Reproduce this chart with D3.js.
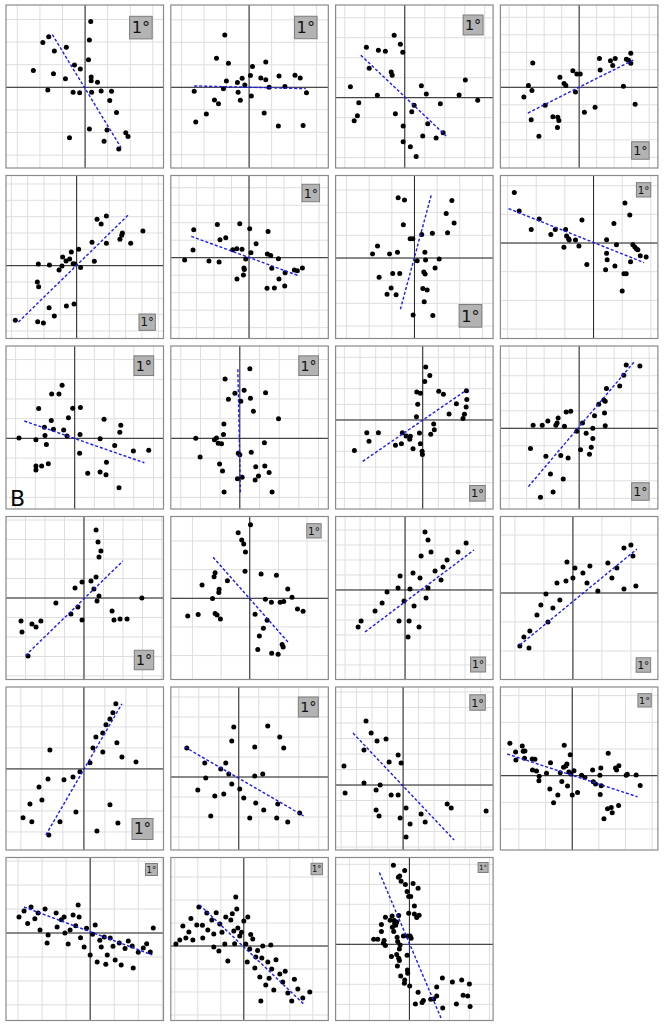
<!DOCTYPE html>
<html lang="en">
<head>
<meta charset="UTF-8" />
<title>Panels B</title>
<script src="https://cdn.jsdelivr.net/npm/d3@7"></script>
<style>
  body { margin: 0; background: #fff; }
  svg { display: block; font-family: "DejaVu Sans", sans-serif; }
</style>
</head>
<body>
<div id="chart"></div>
<script>
// axis extent of each panel, in degrees (panels read left to right, top to bottom)
var xDomains = [
  [-3.50, 3.47], [-3.48, 3.52], [-3.46, 4.42], [-4.50, 4.50],
  [-4.33, 5.32], [-4.47, 4.53], [-3.48, 3.47], [-6.50, 4.49],
  [-3.49, 4.51], [-3.51, 4.50], [-5.56, 4.49], [-4.50, 4.50],
  [-4.00, 4.08], [-5.51, 5.48], [-4.63, 5.87], [-5.00, 5.86],
  [-3.71, 3.79], [-3.40, 4.48], [-4.35, 5.80], [-5.39, 6.43],
  [-7.00, 6.10], [-6.35, 7.35], [-7.38, 8.37]
];
var yDomains = [
  [-3.57, 3.64], [-3.59, 3.66], [-3.52, 4.64], [-4.61, 4.70],
  [-4.46, 5.52], [-4.62, 4.70], [-3.55, 3.64], [-6.66, 4.71],
  [-3.59, 4.69], [-3.59, 4.69], [-5.68, 4.72], [-4.61, 4.70],
  [-4.18, 4.18], [-5.67, 5.71], [-5.97, 4.90], [-5.97, 5.28],
  [-3.86, 3.90], [-3.65, 4.50], [-4.19, 6.32], [-5.57, 6.65],
  [-7.30, 6.30], [-6.48, 7.70], [-7.62, 8.68]
];
var gridStep = [1, 1, 1, 1, 1, 1, 1, 2, 1, 1, 1, 1, 1, 2, 1, 2, 1, 1, 1, 2, 2, 2, 2];
// where the 1 degree box sits
var boxAt = ["top", "top", "top", "bottom", "bottom", "top", "bottom", "top",
             "top", "top", "bottom", "bottom", "bottom", "top", "bottom", "bottom",
             "bottom", "top", "top", "top", "top", "top", "top"];
var scaleLabel = "1°";
var panelLetter = "B";
var letterPanel = 8;

// dashed fit line of each panel: two end points
var fitLines = [
  [[-1.45, 2.33], [1.59, -2.67]], [[-2.44, 0.06], [2.52, -0.06]],
  [[-2.20, 2.13], [2.07, -1.92]], [[-2.93, -1.47], [3.10, 1.56]],
  [[-3.57, -3.45], [3.14, 3.08]], [[-3.30, 1.22], [2.84, -1.03]],
  [[-0.62, -2.26], [0.75, 2.81]], [[-5.93, 2.40], [3.53, -1.37]],
  [[-2.56, 0.88], [3.54, -1.24]], [[-0.10, 3.51], [0.03, -2.76]],
  [[-3.83, -2.64], [2.77, 1.89]], [[-2.90, -3.33], [3.16, 3.81]],
  [[-3.00, -2.95], [2.00, 1.90]], [[-2.56, 2.86], [2.70, -3.09]],
  [[-2.67, -2.80], [4.60, 2.67]], [[-3.66, -3.59], [4.41, 3.03]],
  [[-1.81, -3.14], [1.81, 3.10]], [[-2.70, 1.50], [3.25, -1.95]],
  [[-3.23, 3.35], [3.29, -3.55]], [[-4.88, 1.63], [4.90, -1.58]],
  [[-5.50, 2.17], [5.17, -1.83]], [[-3.83, 3.57], [5.30, -5.13]],
  [[-3.00, 7.17], [3.17, -7.40]]
];

var points = [
  // 1
  [[0.25,2.91],[0.19,2.09],[-1.61,2.24],[-1.87,1.98],[-1.36,1.61],[-0.83,1.77],[0.15,1.22],[-0.47,0.99],[-0.21,0.81],[-2.29,0.74],[-1.40,0.60],[-0.87,0.38],[0.27,0.46],[0.27,0.29],[0.55,0.22],[-1.65,-0.12],[-0.53,-0.22],[-0.24,-0.24],[0.29,-0.22],[0.71,-0.16],[1.17,-0.18],[1.09,-0.58],[1.39,-1.12],[0.19,-1.84],[0.97,-1.89],[1.80,-2.01],[1.90,-2.18],[-0.69,-2.23],[0.84,-2.39],[1.49,-2.73]],
  // 2
  [[-1.08,2.33],[-1.45,1.29],[-0.92,1.07],[0.74,1.13],[0.15,0.93],[0.06,0.52],[-0.31,0.40],[-0.52,0.21],[-0.19,0.10],[-1.01,0.28],[0.52,0.41],[0.74,0.33],[1.33,0.50],[2.04,0.53],[2.27,0.41],[0.89,0],[1.59,0.04],[-1.14,-0.06],[-2.44,-0.18],[-0.49,-0.22],[0.10,-0.39],[2.55,-0.24],[-1.54,-0.56],[-1.36,-0.73],[-0.39,-0.58],[-1.90,-1.19],[0.67,-1.14],[-2.37,-1.54],[1.30,-1.72],[2.40,-1.70]],
  // 3
  [[-0.53,3.13],[-0.22,2.67],[-1.92,2.52],[-1.32,2.37],[-0.97,2.32],[-0.10,2.28],[-1.78,1.47],[-0.68,1.28],[-0.63,1.12],[-2.72,0.55],[-1.37,0.12],[0.83,0.60],[1.08,0.18],[3.03,0.88],[2.72,0.13],[3.65,-0.13],[-2.30,-0.25],[-2.37,-0.90],[-2.53,-1.15],[-0.47,-0.80],[0.47,-0.38],[0.35,-0.70],[1.78,-0.30],[1.15,-1.30],[-0.08,-1.42],[1.92,-1.75],[0.90,-1.92],[1.57,-2.02],[-0.08,-2.20],[0.28,-2.45],[0.57,-2.95]],
  // 4
  [[-2.65,1.39],[-2.90,0.10],[-2.70,-0.19],[-3.16,-0.55],[-2.74,-1.85],[-2.30,-2.80],[-1.94,-1.03],[-1.50,-1.68],[-1.22,-1.71],[-1.16,-1.90],[-1.24,-2.30],[-1.10,0.57],[-0.86,0.21],[-0.76,0.10],[-0.36,0.95],[-0.13,0.76],[0.06,0.76],[-0.21,-0.27],[0.30,-1.43],[0.91,-1.14],[1.16,1.64],[1.20,0.99],[1.79,1.52],[1.92,1.24],[2.06,1.64],[2.53,0.06],[2.70,1.60],[2.82,1.54],[2.95,1.94],[2.95,1.37],[3.20,-0.97]],
  // 5
  [[1.25,2.84],[1.50,2.55],[1.82,3.04],[4.06,2.12],[2.80,2.00],[2.76,1.86],[2.65,1.61],[3.31,1.37],[1.82,1.37],[0.94,1.43],[0.12,1.00],[-0.33,0.84],[-0.86,0.53],[-0.43,0.41],[-0.65,0.29],[-0.90,-0.02],[-1.08,-0.27],[-0.22,0.12],[-0.12,0.10],[-1.67,0.04],[-2.35,0.10],[1.08,0.27],[0.24,-0.12],[-2.41,-1.00],[-2.33,-1.29],[-1.69,-2.57],[-1.37,-3.08],[-0.63,-2.47],[-0.16,-2.35],[-2.39,-3.43],[-2.04,-3.51],[-3.76,-3.35]],
  // 6
  [[-3.16,1.60],[-3.20,0.44],[-3.68,-0.13],[-2.29,-0.19],[-1.71,-0.25],[-1.81,1.90],[-1.66,1.03],[-1.33,1.14],[-0.53,1.94],[0.04,1.66],[-0.93,0.46],[-0.70,0.51],[-0.40,0.48],[0.11,0.29],[0.40,0.80],[-0.19,-0.08],[-0.29,-0.59],[-0.27,-0.67],[-0.32,-0.99],[-0.69,-1.22],[1.09,1.50],[1.05,0.21],[1.24,0.13],[1.68,-0.06],[1.30,-0.61],[2.06,-0.86],[1.71,-1.22],[1.45,-1.73],[1.03,-1.75],[2.04,-1.62],[2.59,-0.70],[2.76,-0.74],[3.05,-0.59]],
  // 7
  [[-0.72,2.66],[-0.44,2.56],[-0.49,1.47],[-0.19,0.85],[-0.07,0.85],[0.32,1.04],[0.79,1.09],[1.40,1.96],[1.65,2.54],[1.75,1.54],[1.46,1.12],[-1.63,0.53],[-1.85,0.18],[-1.10,0.18],[-0.75,0.25],[0.46,0.26],[0.12,-0.12],[0.49,-0.09],[1.09,-0.04],[0.91,-0.44],[-0.96,-0.68],[-0.65,-0.68],[-1.56,-0.85],[0.41,-0.62],[0.47,-0.71],[-1.03,-1.32],[-1.21,-1.60],[-0.81,-1.62],[0.37,-1.34],[0.56,-1.41],[0.43,-1.93],[-0.06,-2.51],[0.81,-2.53]],
  // 8
  [[-5.53,3.53],[-5.19,2.23],[-3.79,1.67],[-4.35,0.95],[-2.98,0.60],[-2.67,0.95],[-1.95,0.95],[-1.88,0.49],[-1.74,0.30],[-1.70,0.21],[-1.26,0.21],[-0.81,1.60],[-2.07,-0.30],[-1.02,-0.21],[-0.47,-1.49],[0.91,0.23],[1.42,1.37],[2.19,2.79],[2.53,1.95],[1.60,-0.12],[0.91,-0.72],[0.95,-1.16],[0.84,-1.86],[1.49,-1.60],[2.74,-0.12],[2.88,-0.28],[3.00,-0.42],[3.09,-0.47],[3.26,-0.88],[3.67,-0.98],[2.58,-1.30],[2.12,-2.14],[2.28,-2.14],[2.00,-3.35]],
  // 9
  [[-0.64,2.69],[-1.17,2.25],[-0.80,2.25],[-1.83,1.51],[-0.10,1.53],[0.29,1.56],[-0.32,1.05],[-1.19,0.90],[1.49,0.97],[2.34,0.66],[2.29,0.31],[-1.54,0.56],[-1.08,0.46],[-0.56,0.42],[-1.51,0.14],[-0.39,0.12],[0.27,0.20],[-2.83,0.02],[-1.97,-0.07],[-1.44,-0.31],[1.29,-0.02],[2.03,-0.37],[2.98,-0.64],[3.76,-0.61],[0.25,-0.76],[-1.34,-1.29],[-1.68,-1.41],[-1.97,-1.41],[-1.97,-1.61],[1.61,-1.22],[0.66,-1.78],[1.29,-1.71],[1.59,-1.85],[2.25,-2.51]],
  // 10
  [[0.51,3.54],[-0.75,3.02],[0.22,2.44],[-0.25,2.29],[1.31,2.31],[-0.58,1.98],[0.05,1.88],[0.54,2.03],[0.69,1.37],[1.97,1.00],[-0.81,0.73],[-0.83,0.20],[-2.24,0],[-1.29,-0.07],[-1.19,0.02],[-1.10,-0.25],[-0.93,-0.27],[-2.02,-0.95],[-0.08,-0.76],[0,-0.83],[0.58,-0.71],[1.25,-0.22],[-1.03,-1.31],[-0.88,-1.66],[0.81,-1.44],[1.27,-1.41],[1.49,-1.73],[0.95,-1.92],[0.78,-2.12],[-0.12,-2.05],[0.12,-1.98],[-0.80,-2.73],[1.64,-2.73]],
  // 11
  [[0.19,3.38],[0.45,2.83],[0.13,2.45],[-0.38,1.79],[-0.15,1.70],[1.02,1.83],[1.32,1.64],[-0.32,1.00],[2.79,1.87],[2.81,1.30],[2.15,1.04],[2.77,0.83],[1.68,0.38],[2.66,0.36],[2.57,0.09],[-0.40,0.21],[0.70,-0.26],[0.74,-0.62],[0.51,-0.91],[-0.21,-0.83],[-0.15,-1.51],[-0.04,-2.00],[-0.02,-2.21],[-3.57,-0.81],[-3.43,-1.36],[-2.83,-0.81],[-4.36,-1.94],[-1.30,-0.81],[-1.06,-1.02],[-0.79,-1.04],[-0.83,-1.23],[-1.36,-1.51],[-1.74,-1.62],[-0.62,-1.83]],
  // 12
  [[2.69,3.62],[3.47,3.56],[2.55,3.03],[2.32,2.42],[1.56,2.27],[1.41,1.62],[1.49,1.54],[1.12,1.37],[1.45,0.88],[0.88,0.72],[1.49,0.15],[0.78,0],[0.19,0.30],[0.40,-0.29],[0.78,-0.59],[0.69,-1.09],[0.59,-1.49],[0.08,-1.22],[-0.13,-0.17],[-0.48,0.97],[-0.74,0.93],[-1.20,0.59],[-1.26,0.30],[-0.84,0.11],[-1.33,0.17],[-1.79,0.42],[-2.11,0.17],[-2.63,0.17],[-2.78,-1.16],[-1.90,-1.60],[-1.05,-1.56],[-0.63,-1.70],[-1.64,-2.61],[-0.91,-2.90],[-1.49,-3.64],[-2.21,-3.94]],
  // 13
  [[0.62,3.49],[0.72,2.87],[0.87,2.41],[0.77,2.10],[0.62,1.08],[0.36,0.87],[0.51,0.46],[-0.10,0.82],[-0.46,0.51],[0.67,-0.15],[0.77,0.10],[-0.67,-0.82],[-0.31,-0.46],[-0.10,-1.13],[1.44,-0.67],[1.54,-1.13],[1.85,-1.08],[2.21,-1.08],[2.97,0],[-3.23,-1.18],[-2.67,-1.33],[-2.46,-1.49],[-2.21,-1.18],[-3.18,-1.74],[-2.87,-2.97],[-1.44,-0.26]],
  // 14
  [[0.05,5.14],[-0.81,4.58],[-0.56,4.07],[-0.42,3.79],[-0.30,3.23],[-0.33,1.88],[-2.42,1.79],[-2.49,1.51],[-1.56,1.23],[-3.33,0.93],[-2.14,0.63],[-2.16,0.40],[-2.60,-0.02],[0.79,1.70],[1.86,1.60],[2.65,0.65],[2.95,0.07],[1.09,-0.07],[1.51,-0.28],[2.12,-0.28],[2.37,-0.23],[3.33,-0.74],[3.72,-0.91],[-4.33,-1.23],[-3.60,-1.14],[-2.42,-1.07],[-2.28,-1.16],[-2.05,-1.44],[0.37,-1.12],[1.21,-1.53],[0.95,-2.09],[0.67,-2.63],[0.56,-3.58],[1.53,-3.84],[1.98,-3.91],[2.26,-3.23],[2.33,-3.40]],
  // 15
  [[1.33,3.87],[1.53,3.33],[1.73,2.53],[1.07,2.27],[4.07,3.13],[3.53,2.53],[2.80,2.00],[2.53,1.53],[2.00,1.27],[1.00,0.80],[0.53,1.13],[0.33,0.07],[-0.33,0.93],[-0.47,0.13],[2.40,0.67],[1.53,0.13],[1.40,-0.53],[0.60,-1.07],[-0.07,-0.73],[-0.40,-2.07],[0.20,-3.13],[0.27,-2.07],[0.93,-2.47],[-1.53,-0.87],[-2.00,-1.40],[-2.93,-2.07],[-3.13,-2.47],[-1.20,-0.13]],
  // 16
  [[4.00,3.31],[3.52,3.10],[4.14,2.55],[2.41,2.07],[3.03,1.72],[1.17,1.86],[0.14,1.72],[0,1.03],[0.69,1.38],[-0.48,0.83],[-1.10,0.69],[-1.86,-0.07],[-0.90,-0.48],[-1.38,-1.03],[-2.21,-0.83],[-2.48,-1.52],[-1.72,-2.00],[-2.97,-2.62],[-3.38,-3.03],[-3.66,-3.66],[-3.03,-3.79],[1.72,0.14],[2.69,1.03],[3.52,0.28],[4.34,0.48],[-0.41,2.14],[0.97,0.69]],
  // 17
  [[1.52,3.10],[1.38,2.67],[1.24,2.38],[1.05,2.10],[0.90,1.71],[0.57,1.52],[0.43,1.00],[0.90,0.81],[1.57,1.24],[1.81,0.57],[2.48,0.33],[0.29,0.29],[-0.19,-0.14],[-0.52,-0.38],[-0.95,-0.52],[-1.62,0.90],[-1.71,-0.48],[-2.14,-0.86],[-2.57,-1.67],[-2.90,-2.33],[-2.48,-2.52],[-2.00,-1.48],[-1.14,-2.52],[-0.38,-2.05],[1.24,-1.71],[1.62,-2.57],[0.62,-2.95],[-1.67,-3.14]],
  // 18
  [[-0.25,2.50],[-0.35,1.80],[0.80,1.50],[1.45,2.55],[2.05,2.00],[2.25,1.45],[-2.60,1.45],[-1.70,0.70],[-0.90,0.40],[-0.65,0.70],[-0.50,0.15],[-0.35,-0.35],[0.05,-0.60],[0.80,0.05],[1.20,0.15],[0.25,-1.05],[-0.75,-0.85],[-1.20,-0.95],[-1.40,-1.95],[0.55,-2.05],[0.85,-1.30],[1.25,-1.65],[1.95,-1.35],[1.90,-2.05],[2.45,-2.25],[3.05,-1.80],[-2.05,-0.65],[-1.65,-0.05]],
  // 19
  [[-2.39,4.13],[-2.06,3.35],[-2.52,2.26],[-1.68,2.84],[-1.10,2.97],[-0.90,1.48],[-0.32,1.94],[-0.13,1.42],[-3.81,1.23],[-2.52,0.13],[-1.74,-0.32],[-1.48,0],[-0.32,-0.65],[-0.77,-0.65],[-3.74,-0.52],[-1.74,-1.61],[-1.55,-2.00],[-0.19,-2.13],[0.19,-1.48],[0.45,-2.52],[1.16,-1.87],[1.42,-2.39],[2.84,-1.23],[3.10,-1.48],[5.35,-1.68],[0.19,-3.35]],
  // 20
  [[-4.68,2.43],[-3.75,2.23],[-4.25,1.78],[-3.68,1.83],[-3.55,1.85],[-4.23,1.18],[-3.58,1.30],[-3.00,1.25],[-2.80,1.23],[-2.98,0.43],[-2.68,0.35],[-2.48,-0.05],[-2.50,-0.38],[-1.93,0.18],[-1.63,0.98],[-0.60,2.28],[-0.15,1.58],[-0.40,0.88],[-0.48,0.73],[-0.65,0.63],[-0.25,0.28],[0.13,0.38],[-0.10,0.13],[-0.90,0.23],[-0.78,-0.43],[-0.35,-0.78],[-1.68,-1.00],[-1.08,-1.45],[-1.40,-2.03],[0,-1.45],[0.40,-1.25],[0.70,0.03],[0.95,-0.13],[1.53,0.43],[2.15,0.58],[2.08,0.03],[1.58,-0.45],[1.75,-0.63],[2.18,-0.75],[2.10,-1.40],[2.70,1.68],[3.25,0.58],[3.33,0.43],[3.50,0.75],[4.05,0.03],[4.13,0.10],[4.80,0.05],[5.10,-0.73],[3.48,-2.23],[2.93,-2.38],[2.65,-2.48],[3.00,-2.78],[2.38,-3.23]],
  // 21
  [[-5.92,1.33],[-5.50,1.83],[-4.92,2.17],[-4.33,1.67],[-3.75,2.00],[-2.83,1.67],[-2.17,1.33],[-1.42,1.50],[-1.00,2.33],[-0.92,1.33],[0.42,0.67],[1.17,-0.33],[1.67,-0.42],[2.42,-0.83],[3.17,-0.67],[3.50,-1.08],[4.42,-1.25],[5.25,0.42],[-4.17,0.25],[-3.50,-0.17],[-2.75,0.50],[-1.83,-0.92],[-0.50,-1.17],[0,-1.83],[0.58,-2.42],[1.42,-1.83],[2.08,-2.25],[2.58,-2.67],[3.58,-2.92],[5.00,-1.58],[-1.67,0.25],[0.92,-1.17],[-3.58,-0.83],[-5.20,0.80],[-4.60,1.20],[-2.40,1.10],[-1.20,0.60],[-0.30,0.40],[0.20,-0.10],[0.80,-0.60],[1.90,-1.10],[2.90,-1.30],[4.00,-1.60],[4.70,-0.90],[-0.80,-0.40],[-2.10,0.00],[1.30,-2.60]],
  // 22
  [[-3.91,3.39],[-3.22,2.87],[-2.78,2.26],[-3.13,1.39],[-4.09,1.83],[-4.78,1.22],[-5.30,1.74],[-5.04,0.70],[-4.43,0.52],[-3.57,0.70],[-2.61,1.04],[-2.09,1.91],[-1.57,2.52],[-1.13,2.26],[-0.70,4.26],[-0.61,3.22],[0,2.17],[0.35,2.52],[-0.87,1.30],[-0.35,0.87],[0.17,0.17],[0.52,-0.26],[1.04,-0.96],[1.57,-1.04],[2.09,-1.39],[0.96,-1.91],[1.39,-2.70],[2.43,-2.00],[3.13,-2.43],[1.91,-3.39],[2.61,-3.83],[3.39,-3.13],[3.83,-4.09],[4.70,-3.74],[5.13,-4.52],[5.74,-4.00],[4.17,-4.78],[1.48,-4.78],[-1.39,-1.30],[-2.17,-0.43],[-1.65,0.17],[-2.61,-0.09],[-5.57,0.52],[-5.91,0.17],[-0.52,1.57],[0.78,0.61],[1.65,0],[2.35,0.09],[-2.40,2.90],[-1.90,1.20],[-1.00,2.80],[-0.20,1.20],[0.60,1.00],[1.20,-0.40],[2.80,-1.20],[2.20,-2.80],[3.60,-2.20],[4.40,-2.90],[-4.60,2.40],[-3.60,1.80],[-0.80,0.20],[0.30,-1.40]],
  // 23
  [[-1.60,7.90],[-0.47,7.37],[-0.97,6.83],[-1.10,6.70],[-0.83,6.30],[-0.40,5.97],[0.37,6.07],[0.87,5.60],[-0.23,5.27],[-0.07,4.77],[0.13,4.77],[0.50,3.83],[-0.07,3.10],[0.50,3.03],[0.97,2.90],[0.73,2.67],[-2.40,2.70],[-2.80,1.97],[-2.80,1.27],[-1.73,2.83],[-1.93,2.40],[-1.53,2.37],[-1.27,2.23],[-1.07,2.87],[-1.47,2.07],[-1.70,1.70],[-1.57,1.27],[-1.37,1.90],[-0.60,0.83],[-0.20,0.83],[0.07,0.83],[0.17,0.60],[-1.23,0.70],[-3.57,0.50],[-3.17,0.50],[-2.53,0.37],[-2.60,0.10],[-2.40,-0.13],[-1.17,0.27],[-0.93,-0.07],[-1.00,-0.47],[-1.80,-1.23],[-1.27,-1.03],[-1.07,-1.40],[-1.00,-1.63],[-1.20,-2.17],[-0.23,-1.10],[-0.20,-2.57],[-0.17,-2.90],[-0.87,-3.17],[-0.47,-3.57],[-0.50,-3.90],[0.03,-4.17],[0.87,-4.80],[0.60,-5.97],[1.27,-5.83],[1.40,-5.63],[2.13,-5.50],[2.43,-5.47],[2.73,-5.17],[2.73,-4.27],[3.30,-3.37],[3.33,-6.37],[4.30,-3.77],[4.70,-5.97],[5.23,-3.57],[5.37,-5.10],[5.83,-5.17],[6.00,-3.97],[6.07,-6.23]]
];

var width = 664;
var height = 1027;
var nCols = 4;
var panelW = 157.5;
var panelH = 163;
var colStep = 164.8;
var rowStep = 170.5;
var left0 = 6;
var top0 = 5;

var svg = d3.select("#chart")
            .append("svg")
            .attr("width", width)
            .attr("height", height);

points.forEach(function(pts, i) {
  var col = i % nCols;
  var row = Math.floor(i / nCols);
  var g = svg.append("g")
             .attr("transform", "translate(" + (left0 + col * colStep) + "," + (top0 + row * rowStep) + ")");

  var xScale = d3.scaleLinear().domain(xDomains[i]).range([0, panelW]);
  var yScale = d3.scaleLinear().domain(yDomains[i]).range([panelH, 0]);

  g.append("clipPath")
   .attr("id", "clip" + i)
   .append("rect")
   .attr("width", panelW)
   .attr("height", panelH);

  var body = g.append("g").attr("clip-path", "url(#clip" + i + ")");

  // grid, one line per step
  var step = gridStep[i];
  var xs = d3.range(Math.ceil(xDomains[i][0] / step) * step, xDomains[i][1], step);
  var ys = d3.range(Math.ceil(yDomains[i][0] / step) * step, yDomains[i][1], step);

  body.selectAll(".gx")
      .data(xs)
      .enter()
      .append("line")
      .attr("x1", function(d) { return xScale(d); })
      .attr("x2", function(d) { return xScale(d); })
      .attr("y1", 0)
      .attr("y2", panelH)
      .attr("stroke", "#dedede")
      .attr("stroke-width", 1);

  body.selectAll(".gy")
      .data(ys)
      .enter()
      .append("line")
      .attr("y1", function(d) { return yScale(d); })
      .attr("y2", function(d) { return yScale(d); })
      .attr("x1", 0)
      .attr("x2", panelW)
      .attr("stroke", "#dedede")
      .attr("stroke-width", 1);

  // axes through the origin
  body.append("line")
      .attr("x1", xScale(0)).attr("x2", xScale(0))
      .attr("y1", 0).attr("y2", panelH)
      .attr("stroke", "#222").attr("stroke-width", 1);
  body.append("line")
      .attr("y1", yScale(0)).attr("y2", yScale(0))
      .attr("x1", 0).attr("x2", panelW)
      .attr("stroke", "#222").attr("stroke-width", 1);

  body.selectAll("circle")
      .data(pts)
      .enter()
      .append("circle")
      .attr("cx", function(d) { return xScale(d[0]); })
      .attr("cy", function(d) { return yScale(d[1]); })
      .attr("r", 2.5)
      .attr("fill", "#000");

  var line = d3.line()
               .x(function(d) { return xScale(d[0]); })
               .y(function(d) { return yScale(d[1]); });

  body.append("path")
      .datum(fitLines[i])
      .attr("d", line)
      .attr("fill", "none")
      .attr("stroke", "#1a1aff")
      .attr("stroke-width", 1.4)
      .attr("stroke-dasharray", "3,2");

  // 1 degree box, half a degree in from the corner
  var bx0 = xDomains[i][1] - 1.5;
  var by0 = boxAt[i] == "top" ? yDomains[i][1] - 0.5 : yDomains[i][0] + 1.5;
  var side = xScale(bx0 + 1) - xScale(bx0);
  body.append("rect")
      .attr("x", xScale(bx0))
      .attr("y", yScale(by0))
      .attr("width", side)
      .attr("height", yScale(by0 - 1) - yScale(by0))
      .attr("fill", "#b3b3b3")
      .attr("stroke", "#7d7d7d")
      .attr("stroke-width", 1);
  body.append("text")
      .attr("x", xScale(bx0 + 0.5))
      .attr("y", yScale(by0 - 0.5))
      .attr("dy", "0.36em")
      .attr("text-anchor", "middle")
      .attr("font-size", side * 0.72)
      .attr("fill", "#111")
      .text(scaleLabel);

  g.append("rect")
   .attr("width", panelW)
   .attr("height", panelH)
   .attr("fill", "none")
   .attr("stroke", "#8a8a8a")
   .attr("stroke-width", 1.2);

  if (i == letterPanel) {
    g.append("text")
     .attr("x", 4)
     .attr("y", panelH - 3)
     .attr("font-size", 22)
     .attr("fill", "#000")
     .text(panelLetter);
  }
});
</script>
</body>
</html>
